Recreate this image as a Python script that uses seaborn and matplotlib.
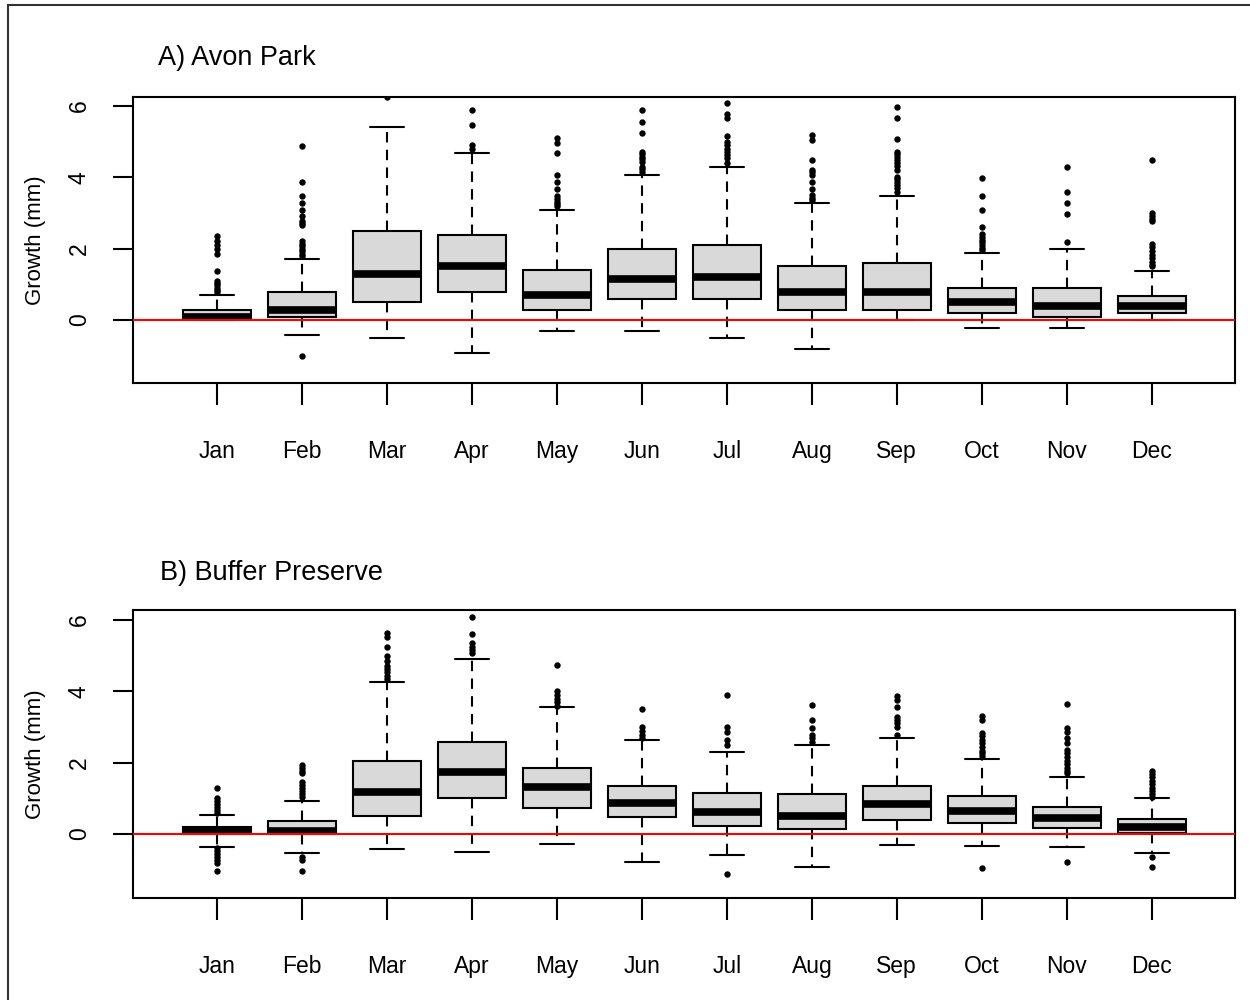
import numpy as np
import pandas as pd
import matplotlib
matplotlib.use("Agg")
import matplotlib.pyplot as plt
from matplotlib.patches import Rectangle
import seaborn as sns

months = ["Jan", "Feb", "Mar", "Apr", "May", "Jun",
          "Jul", "Aug", "Sep", "Oct", "Nov", "Dec"]

# A) Avon Park - box stats (whisker ends, quartiles, median)
a_lo  = [0.00, -0.41, -0.50, -0.92, -0.31, -0.31, -0.50, -0.81, 0.00, -0.22, -0.22, 0.00]
a_q1  = [0.02, 0.09, 0.50, 0.78, 0.28, 0.59, 0.59, 0.28, 0.28, 0.18, 0.08, 0.18]
a_med = [0.08, 0.28, 1.29, 1.50, 0.71, 1.14, 1.20, 0.78, 0.78, 0.50, 0.39, 0.39]
a_q3  = [0.28, 0.78, 2.50, 2.38, 1.40, 1.99, 2.10, 1.50, 1.60, 0.90, 0.90, 0.68]
a_hi  = [0.71, 1.71, 5.40, 4.69, 3.08, 4.07, 4.29, 3.28, 3.48, 1.88, 1.99, 1.37]
a_out = [
    [2.34, 2.20, 2.10, 1.98, 1.85, 1.37, 1.10, 1.04, 0.98, 0.90, 0.84, 0.79],
    [4.88, 3.88, 3.48, 3.29, 3.07, 2.90, 2.78, 2.72, 2.66, 2.20, 2.13, 2.06,
     1.99, 1.92, 1.85, 1.78, -1.00],
    [6.25],
    [5.89, 5.46, 4.91, 4.79],
    [5.09, 4.97, 4.69, 4.07, 3.88, 3.67, 3.46, 3.38, 3.30, 3.24, 3.18],
    [5.89, 5.56, 5.25, 4.72, 4.65, 4.58, 4.51, 4.44, 4.30, 4.23, 4.16],
    [6.07, 5.78, 5.65, 5.17, 5.00, 4.90, 4.80, 4.70, 4.62, 4.53, 4.39],
    [5.19, 5.05, 4.48, 4.21, 4.14, 4.07, 3.88, 3.67, 3.50, 3.43, 3.36],
    [5.98, 5.67, 5.06, 4.72, 4.64, 4.56, 4.48, 4.40, 4.32, 4.21, 4.02,
     3.94, 3.86, 3.78, 3.70, 3.60],
    [3.97, 3.48, 3.09, 2.60, 2.41, 2.33, 2.25, 2.17, 2.09, 2.02, 1.96],
    [4.28, 3.60, 3.28, 2.97, 2.19],
    [4.48, 2.99, 2.91, 2.83, 2.76, 2.13, 2.03, 1.93, 1.83, 1.73, 1.63, 1.55, 1.50],
]

# B) Buffer Preserve
b_lo  = [-0.36, -0.54, -0.43, -0.49, -0.28, -0.78, -0.58, -0.92, -0.30, -0.34, -0.37, -0.52]
b_q1  = [0.00, 0.00, 0.50, 1.02, 0.72, 0.47, 0.23, 0.14, 0.39, 0.32, 0.16, 0.02]
b_med = [0.11, 0.09, 1.19, 1.75, 1.31, 0.88, 0.61, 0.50, 0.84, 0.65, 0.44, 0.21]
b_q3  = [0.21, 0.37, 2.06, 2.59, 1.86, 1.36, 1.14, 1.12, 1.35, 1.07, 0.77, 0.42]
b_hi  = [0.53, 0.92, 4.25, 4.92, 3.55, 2.64, 2.30, 2.51, 2.69, 2.11, 1.59, 1.00]
b_out = [
    [1.28, 1.00, 0.92, 0.84, 0.76, 0.68, 0.60, -0.40, -0.48, -0.56, -0.64,
     -0.72, -0.82, -1.03],
    [1.93, 1.85, 1.78, 1.70, 1.47, 1.38, 1.29, 1.20, 1.12, 1.05, -0.64,
     -0.73, -1.03],
    [5.63, 5.53, 5.23, 4.99, 4.86, 4.71, 4.62, 4.53, 4.44, 4.36],
    [6.09, 5.61, 5.35, 5.25, 5.16, 5.07],
    [4.75, 4.02, 3.90, 3.80, 3.70, 3.59],
    [3.51, 3.01, 2.90, 2.79, 2.68],
    [3.90, 3.01, 2.87, 2.64, 2.50, -1.12],
    [3.62, 3.20, 2.96, 2.78, 2.68, 2.59],
    [3.88, 3.76, 3.55, 3.29, 3.20, 3.10, 3.01, 2.79],
    [3.32, 3.20, 2.84, 2.74, 2.64, 2.54, 2.44, 2.34, 2.26, 2.19, -0.96],
    [3.66, 2.97, 2.85, 2.70, 2.56, 2.36, 2.26, 2.16, 2.06, 1.96, 1.86,
     1.78, 1.70, -0.79],
    [1.77, 1.68, 1.60, 1.50, 1.40, 1.30, 1.20, 1.12, 1.05, -0.64, -0.93],
]


def box_frame(lo, q1, med, q3, hi):
    rows = []
    for i, m in enumerate(months):
        for v in (lo[i], q1[i], med[i], q3[i], hi[i]):
            rows.append((m, v))
    return pd.DataFrame(rows, columns=["month", "growth"])


def out_frame(out):
    rows = [(m, v) for m, vals in zip(months, out) for v in vals]
    return pd.DataFrame(rows, columns=["month", "growth"])


sns.set_theme(style="white")
plt.rcParams["font.family"] = ["Liberation Sans", "DejaVu Sans"]
plt.rcParams["text.color"] = "black"
plt.rcParams["axes.labelcolor"] = "black"
plt.rcParams["xtick.color"] = "black"
plt.rcParams["ytick.color"] = "black"

fig = plt.figure(figsize=(12.5, 10), dpi=100)
ax_a = fig.add_axes([0.1064, 0.617, 0.8816, 0.286])
ax_b = fig.add_axes([0.1064, 0.102, 0.8816, 0.288])

panels = [
    (ax_a, box_frame(a_lo, a_q1, a_med, a_q3, a_hi), out_frame(a_out),
     "A) Avon Park", (158, 58), (-1.77, 6.25)),
    (ax_b, box_frame(b_lo, b_q1, b_med, b_q3, b_hi), out_frame(b_out),
     "B) Buffer Preserve", (160, 573), (-1.79, 6.28)),
]

for ax, bdf, odf, title, tpos, ylim in panels:
    sns.boxplot(data=bdf, x="month", y="growth", order=months, ax=ax,
                whis=(0, 100), showfliers=False, width=0.8,
                color="#d9d9d9", saturation=1, linecolor="black", linewidth=1.5,
                medianprops=dict(linewidth=5.5, color="black"),
                whiskerprops=dict(linestyle=(0, (5, 3.5)), linewidth=1.5),
                capprops=dict(linewidth=1.5))
    sns.stripplot(data=odf, x="month", y="growth", order=months, ax=ax,
                  jitter=False, color="black", size=4.6, linewidth=0, zorder=4)
    ax.axhline(0, color="#ff0000", lw=1.5, zorder=6)

    ax.set_xlim(-0.99, 11.98)
    ax.set_ylim(*ylim)
    ax.set_yticks([0, 2, 4, 6])
    ax.set_xlabel("")
    ax.set_ylabel("Growth (mm)", fontsize=16, va="center", color="black")
    ax.yaxis.set_label_coords((35 - 133) / 1102, 0.5)

    for s in ax.spines.values():
        s.set_visible(True)
        s.set_color("black")
        s.set_linewidth(1.5)
    ax.tick_params(axis="x", length=16, width=1.5, pad=25, labelsize=16.5,
                   direction="out", bottom=True, color="black", labelcolor="black")
    ax.tick_params(axis="y", length=14.5, width=1.5, pad=16, labelsize=16.5,
                   direction="out", left=True, labelrotation=90, color="black",
                   labelcolor="black")
    for lab in ax.get_yticklabels():
        lab.set_va("center")

    fig.text(tpos[0] / 1250, 1 - tpos[1] / 1000, title, fontsize=19.5,
             ha="left", va="center", color="black")

# outer frame of the original page
fig.patches.append(Rectangle((8 / 1250, -0.05), 1.2, 0.05 + 1 - 5 / 1000,
                             transform=fig.transFigure, fill=False,
                             edgecolor="#333333", linewidth=1.5))

fig.savefig("out.png", dpi=100)
